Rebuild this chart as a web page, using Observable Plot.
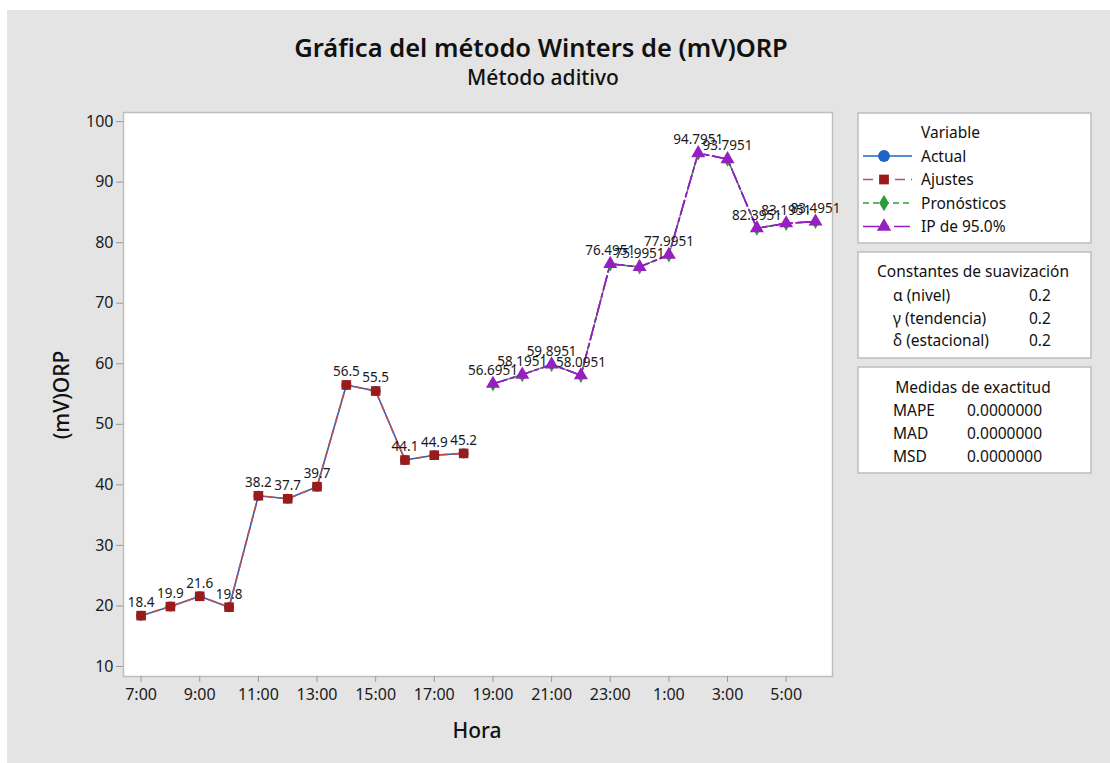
<!DOCTYPE html>
<html>
<head>
<meta charset="utf-8">
<script src="https://cdn.jsdelivr.net/npm/d3@7"></script>
<script src="https://cdn.jsdelivr.net/npm/@observablehq/plot@0.6"></script>
<style>
  html, body { margin: 0; padding: 0; background: #ffffff; }
  #chart { position: relative; width: 1110px; height: 763px; }
  svg { font-family: "Noto Sans", "DejaVu Sans", sans-serif; }
</style>
</head>
<body>
<div id="chart"></div>
<script>
// ---- data ----
const hours = ["7:00","8:00","9:00","10:00","11:00","12:00","13:00","14:00","15:00","16:00","17:00","18:00",
               "19:00","20:00","21:00","22:00","23:00","0:00","1:00","2:00","3:00","4:00","5:00","6:00"];
const actualValues = [18.4, 19.9, 21.6, 19.8, 38.2, 37.7, 39.7, 56.5, 55.5, 44.1, 44.9, 45.2];
const fittedValues = [18.4, 19.9, 21.6, 19.8, 38.2, 37.7, 39.7, 56.5, 55.5, 44.1, 44.9, 45.2];
const forecastValues = [56.6951, 58.1951, 59.8951, 58.0951, 76.4951, 75.9951, 77.9951, 94.7951, 93.7951, 82.3951, 83.1951, 83.4951];
const lowerPI = [56.6951, 58.1951, 59.8951, 58.0951, 76.4951, 75.9951, 77.9951, 94.7951, 93.7951, 82.3951, 83.1951, 83.4951];
const upperPI = [56.6951, 58.1951, 59.8951, 58.0951, 76.4951, 75.9951, 77.9951, 94.7951, 93.7951, 82.3951, 83.1951, 83.4951];
const yTicks = [10, 20, 30, 40, 50, 60, 70, 80, 90, 100];
const xTickIndex = [0, 2, 4, 6, 8, 10, 12, 14, 16, 18, 20, 22];
const legendNames = ["Actual", "Ajustes", "Pronósticos", "IP de 95.0%"];
const smoothingLabels = ["α (nivel)", "γ (tendencia)", "δ (estacional)"];
const smoothingValues = ["0.2", "0.2", "0.2"];
const accuracyLabels = ["MAPE", "MAD", "MSD"];
const accuracyValues = ["0.0000000", "0.0000000", "0.0000000"];

const nObs = actualValues.length;
const actual = actualValues.map((v, i) => ({i, v}));
const fitted = fittedValues.map((v, i) => ({i, v}));
const forecast = forecastValues.map((v, i) => ({i: i + nObs, v}));
const lower = lowerPI.map((v, i) => ({i: i + nObs, v}));
const upper = upperPI.map((v, i) => ({i: i + nObs, v}));

const C = {actual: "#1f63c6", fit: "#9b1b1b", fitLine: "#c0504d", fc: "#2e9b3a", pi: "#9420c0"};

const chart = Plot.plot({
  width: 1110,
  height: 763,
  marginLeft: 123,
  marginRight: 278,
  marginTop: 112,
  marginBottom: 87,
  style: {background: "transparent", fontFamily: "Noto Sans, DejaVu Sans, sans-serif", color: "#1a1a1a"},
  x: {domain: [-0.6, 23.58]},
  y: {domain: [8.35, 101.5]},
  marks: [
    Plot.frame({fill: "white", stroke: "#bdbdbd", strokeWidth: 1.5}),
    Plot.axisX({ticks: xTickIndex, tickFormat: i => hours[i], tickSize: 6, tickPadding: 6, fontSize: 16, stroke: "#999", fill: "#1a1a1a", label: null}),
    Plot.axisY({ticks: yTicks, tickSize: 7, tickPadding: 3, fontSize: 16, stroke: "#999", fill: "#1a1a1a", label: null}),
    // actual & fitted
    Plot.line(actual, {x: "i", y: "v", stroke: C.actual, strokeWidth: 1.6}),
    Plot.line(fitted, {x: "i", y: "v", stroke: C.fitLine, strokeWidth: 1.6, strokeDasharray: "7,5"}),
    Plot.dot(actual, {x: "i", y: "v", symbol: "circle", fill: C.actual, r: 5}),
    Plot.dot(fitted, {x: "i", y: "v", symbol: "square", fill: C.fit, r: 5.4}),
    // forecasts and PI
    Plot.line(forecast, {x: "i", y: "v", stroke: C.fc, strokeWidth: 1.6, strokeDasharray: "6,4"}),
    Plot.line(lower, {x: "i", y: "v", stroke: C.pi, strokeWidth: 1.6, strokeDasharray: "14,4,4,4"}),
    Plot.line(upper, {x: "i", y: "v", stroke: C.pi, strokeWidth: 1.6, strokeDasharray: "14,4,4,4"}),
    Plot.dot(forecast, {x: "i", y: "v", symbol: "diamond", fill: C.fc, r: 4, dy: 1}),
    Plot.dot(upper, {x: "i", y: "v", symbol: "triangle", fill: C.pi, r: 5.2}),
    // labels
    Plot.text(actual, {x: "i", y: "v", text: d => String(d.v), dy: -13, fontSize: 13.5, fill: "#1a1a1a"}),
    Plot.text(forecast, {x: "i", y: "v", text: d => String(d.v), dy: -13, fontSize: 13.5, fill: "#1a1a1a"})
  ]
});

const container = document.getElementById("chart");
container.appendChild(chart);

const svg = d3.select(chart);
// gray panel behind everything
svg.insert("rect", ":first-child")
  .attr("x", 7).attr("y", 10).attr("width", 1103).attr("height", 753)
  .attr("fill", "#e4e4e4");

const ff = "Noto Sans, DejaVu Sans, sans-serif";
// titles
svg.append("text").attr("x", 541).attr("y", 57).attr("text-anchor", "middle")
  .attr("font-size", 25.5).attr("font-family", ff).attr("fill", "#111").attr("font-weight", 600)
  .text("Gráfica del método Winters de (mV)ORP");
svg.append("text").attr("x", 543).attr("y", 85).attr("text-anchor", "middle")
  .attr("font-size", 21).attr("font-family", ff).attr("fill", "#111").attr("font-weight", 500)
  .text("Método aditivo");
// axis titles
svg.append("text").attr("x", 477).attr("y", 738).attr("text-anchor", "middle")
  .attr("font-size", 21).attr("font-family", ff).attr("fill", "#111").attr("font-weight", 500).text("Hora");
svg.append("text").attr("transform", "translate(69,395) rotate(-90)").attr("text-anchor", "middle")
  .attr("font-size", 21).attr("font-family", ff).attr("fill", "#111").attr("font-weight", 500).text("(mV)ORP");

// legend boxes
const boxes = [[858, 113, 233, 130], [858, 252, 233, 106], [858, 367, 233, 106]];
boxes.forEach(([x, y, w, h]) => svg.append("rect").attr("x", x).attr("y", y).attr("width", w).attr("height", h)
  .attr("fill", "white").attr("stroke", "#bdbdbd").attr("stroke-width", 1.5));

const lg = svg.append("g").attr("font-family", ff).attr("font-size", 15.5).attr("fill", "#111").attr("text-anchor", "start");
lg.append("text").attr("x", 921).attr("y", 138).text("Variable");
const legendStyle = [
  {stroke: C.actual, dash: null, sym: d3.symbolCircle, fill: C.actual, size: 110},
  {stroke: C.fitLine, dash: "10,6", sym: d3.symbolSquare, fill: C.fit, size: 95},
  {stroke: C.fc, dash: "6,4", sym: d3.symbolDiamond, fill: C.fc, size: 80},
  {stroke: C.pi, dash: "16,5,5,5", sym: d3.symbolTriangle, fill: C.pi, size: 90}
];
legendNames.forEach((name, k) => {
  const yy = 156 + k * 23.5;
  const s = legendStyle[k];
  const ln = lg.append("line").attr("x1", 863).attr("x2", 912).attr("y1", yy).attr("y2", yy)
    .attr("stroke", s.stroke).attr("stroke-width", 1.6);
  if (s.dash) ln.attr("stroke-dasharray", s.dash);
  lg.append("path").attr("d", d3.symbol(s.sym, s.size)()).attr("transform", `translate(884,${yy})`).attr("fill", s.fill);
  lg.append("text").attr("x", 921).attr("y", yy + 5.5).text(name);
});

lg.append("text").attr("x", 973).attr("y", 277).attr("text-anchor", "middle").text("Constantes de suavización");
smoothingLabels.forEach((t, k) => {
  const yy = 301 + k * 22.5;
  lg.append("text").attr("x", 893).attr("y", yy).text(t);
  lg.append("text").attr("x", 1029).attr("y", yy).text(smoothingValues[k]);
});
lg.append("text").attr("x", 973).attr("y", 393).attr("text-anchor", "middle").text("Medidas de exactitud");
accuracyLabels.forEach((t, k) => {
  const yy = 416 + k * 23;
  lg.append("text").attr("x", 893).attr("y", yy).text(t);
  lg.append("text").attr("x", 967).attr("y", yy).text(accuracyValues[k]);
});
</script>
</body>
</html>
